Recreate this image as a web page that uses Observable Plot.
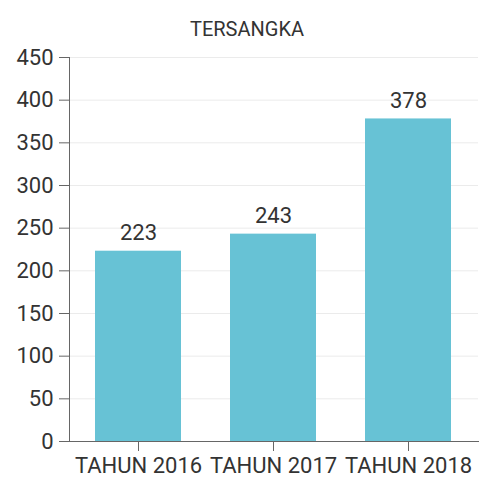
<!DOCTYPE html>
<html>
<head>
<meta charset="utf-8">
<script src="https://cdn.jsdelivr.net/npm/d3@7"></script>
<script src="https://cdn.jsdelivr.net/npm/@observablehq/plot@0.6"></script>
<style>
  html, body { margin: 0; padding: 0; background: #fff; }
</style>
</head>
<body>
<div id="chart"></div>
<script>
const title = "TERSANGKA";
const categories = ["TAHUN 2016", "TAHUN 2017", "TAHUN 2018"];
const values = [223, 243, 378];
const yTicks = [0, 50, 100, 150, 200, 250, 300, 350, 400, 450];

const data = categories.map((c, i) => ({category: c, value: values[i]}));

const chart = Plot.plot({
  width: 479,
  height: 481,
  marginLeft: 69,
  marginRight: 1,
  marginTop: 57,
  marginBottom: 40,
  style: {fontFamily: "Roboto", fontSize: "22px", color: "#333", background: "#fff"},
  x: {domain: categories, paddingInner: 0.36, paddingOuter: 0.184, label: null},
  y: {domain: [0, 450], label: null},
  marks: [
    Plot.gridY(yTicks, {stroke: "#ebebeb", strokeOpacity: 1}),
    Plot.barY(data, {x: "category", y: "value", fill: "#67c2d5"}),
    Plot.text(data, {x: "category", y: "value", text: d => String(d.value), dy: -18, fontSize: 22, fill: "#333"}),
    Plot.frame({anchor: "left", stroke: "#666"}),
    Plot.frame({anchor: "bottom", stroke: "#666"}),
    Plot.axisY(yTicks, {tickSize: 10, tickPadding: 6, stroke: "#666", fill: "#333", fontSize: 22, label: null}),
    Plot.axisX({tickSize: 10, tickPadding: 6, stroke: "#666", fill: "#333", fontSize: 22, label: null}),
    Plot.text([title], {frameAnchor: "top", dx: -27, dy: -36, fontSize: 20, fill: "#333"})
  ]
});
document.getElementById("chart").appendChild(chart);
</script>
</body>
</html>
